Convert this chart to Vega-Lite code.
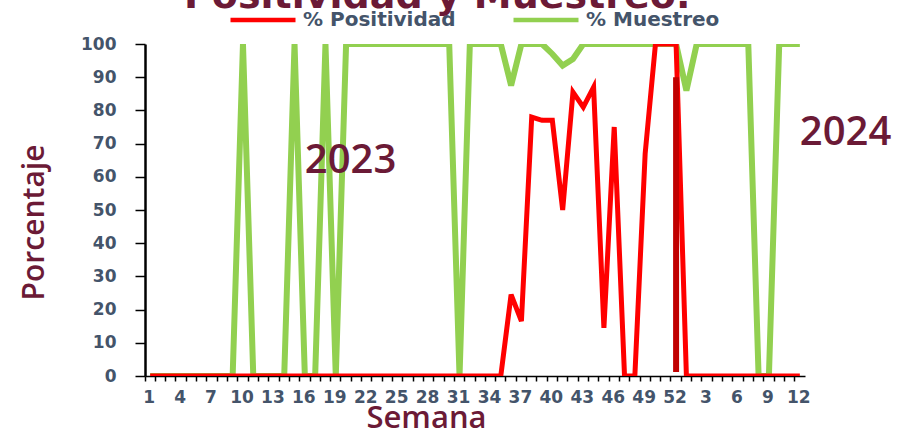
{
  "$schema": "https://vega.github.io/schema/vega-lite/v6.json",
  "width": 660,
  "height": 332,
  "autosize": {"type": "none"},
  "padding": {"left": 145, "top": 44, "right": 94, "bottom": 58},
  "background": "white",
  "title": {
    "text": "Positividad y Muestreo.",
    "font": "DejaVu Sans",
    "fontSize": 38,
    "fontWeight": "bold",
    "color": "#6B1A36",
    "anchor": "start",
    "frame": "group",
    "dx": 39,
    "dy": 40,
    "baseline": "alphabetic",
    "offset": -21
  },
  "config": {
    "view": {"stroke": null},
    "axisY": {
      "labelOverlap": false,
      "labelFont": "DejaVu Sans",
      "labelFontWeight": "bold",
      "labelFontSize": 17,
      "labelColor": "#44546A",
      "labelPadding": 19,
      "tickSize": 10,
      "tickWidth": 1.5,
      "tickColor": "black",
      "domainColor": "black",
      "domainWidth": 2.5,
      "grid": false
    },
    "axisX": {
      "labelFont": "DejaVu Sans",
      "labelFontWeight": "bold",
      "labelFontSize": 17,
      "labelColor": "#44546A",
      "labelPadding": 8,
      "labelOverlap": false,
      "tickSize": 5,
      "tickWidth": 1.5,
      "tickColor": "black",
      "domainColor": "black",
      "domainWidth": 1.5,
      "grid": false
    }
  },
  "datasets": {
    "semanas": [
      {"i": 0, "semana": "1", "pos": 0, "mue": 0},
      {"i": 1, "semana": "2", "pos": 0, "mue": 0},
      {"i": 2, "semana": "3", "pos": 0, "mue": 0},
      {"i": 3, "semana": "4", "pos": 0, "mue": 0},
      {"i": 4, "semana": "5", "pos": 0, "mue": 0},
      {"i": 5, "semana": "6", "pos": 0, "mue": 0},
      {"i": 6, "semana": "7", "pos": 0, "mue": 0},
      {"i": 7, "semana": "8", "pos": 0, "mue": 0},
      {"i": 8, "semana": "9", "pos": 0, "mue": 0},
      {"i": 9, "semana": "10", "pos": 0, "mue": 100},
      {"i": 10, "semana": "11", "pos": 0, "mue": 0},
      {"i": 11, "semana": "12", "pos": 0, "mue": 0},
      {"i": 12, "semana": "13", "pos": 0, "mue": 0},
      {"i": 13, "semana": "14", "pos": 0, "mue": 0},
      {"i": 14, "semana": "15", "pos": 0, "mue": 100},
      {"i": 15, "semana": "16", "pos": 0, "mue": 0},
      {"i": 16, "semana": "17", "pos": 0, "mue": 0},
      {"i": 17, "semana": "18", "pos": 0, "mue": 100},
      {"i": 18, "semana": "19", "pos": 0, "mue": 0},
      {"i": 19, "semana": "20", "pos": 0, "mue": 100},
      {"i": 20, "semana": "21", "pos": 0, "mue": 100},
      {"i": 21, "semana": "22", "pos": 0, "mue": 100},
      {"i": 22, "semana": "23", "pos": 0, "mue": 100},
      {"i": 23, "semana": "24", "pos": 0, "mue": 100},
      {"i": 24, "semana": "25", "pos": 0, "mue": 100},
      {"i": 25, "semana": "26", "pos": 0, "mue": 100},
      {"i": 26, "semana": "27", "pos": 0, "mue": 100},
      {"i": 27, "semana": "28", "pos": 0, "mue": 100},
      {"i": 28, "semana": "29", "pos": 0, "mue": 100},
      {"i": 29, "semana": "30", "pos": 0, "mue": 100},
      {"i": 30, "semana": "31", "pos": 0, "mue": 0},
      {"i": 31, "semana": "32", "pos": 0, "mue": 100},
      {"i": 32, "semana": "33", "pos": 0, "mue": 100},
      {"i": 33, "semana": "34", "pos": 0, "mue": 100},
      {"i": 34, "semana": "35", "pos": 0, "mue": 100},
      {"i": 35, "semana": "36", "pos": 24.5, "mue": 87.5},
      {"i": 36, "semana": "37", "pos": 16.5, "mue": 100},
      {"i": 37, "semana": "38", "pos": 78, "mue": 100},
      {"i": 38, "semana": "39", "pos": 77, "mue": 100},
      {"i": 39, "semana": "40", "pos": 77, "mue": 97},
      {"i": 40, "semana": "41", "pos": 50, "mue": 93.5},
      {"i": 41, "semana": "42", "pos": 85.5, "mue": 95.5},
      {"i": 42, "semana": "43", "pos": 81, "mue": 100},
      {"i": 43, "semana": "44", "pos": 87, "mue": 100},
      {"i": 44, "semana": "45", "pos": 14.5, "mue": 100},
      {"i": 45, "semana": "46", "pos": 75, "mue": 100},
      {"i": 46, "semana": "47", "pos": 0, "mue": 100},
      {"i": 47, "semana": "48", "pos": 0, "mue": 100},
      {"i": 48, "semana": "49", "pos": 67, "mue": 100},
      {"i": 49, "semana": "50", "pos": 100, "mue": 100},
      {"i": 50, "semana": "51", "pos": 100, "mue": 100},
      {"i": 51, "semana": "52", "pos": 100, "mue": 100},
      {"i": 52, "semana": "1", "pos": 0, "mue": 86},
      {"i": 53, "semana": "2", "pos": 0, "mue": 100},
      {"i": 54, "semana": "3", "pos": 0, "mue": 100},
      {"i": 55, "semana": "4", "pos": 0, "mue": 100},
      {"i": 56, "semana": "5", "pos": 0, "mue": 100},
      {"i": 57, "semana": "6", "pos": 0, "mue": 100},
      {"i": 58, "semana": "7", "pos": 0, "mue": 100},
      {"i": 59, "semana": "8", "pos": 0, "mue": 0},
      {"i": 60, "semana": "9", "pos": 0, "mue": 0},
      {"i": 61, "semana": "10", "pos": 0, "mue": 100},
      {"i": 62, "semana": "11", "pos": 0, "mue": 100},
      {"i": 63, "semana": "12", "pos": 0, "mue": 100}
    ],
    "segmento": [{"i": 51, "desde": 1.2, "hasta": 90}],
    "notas": [
      {"i": 15, "y": 61, "txt": "2023"},
      {"i": 63, "y": 69.6, "txt": "2024"}
    ]
  },
  "layer": [
    {
      "data": {"name": "semanas"},
      "mark": {"type": "line", "clip": true, "strokeWidth": 6, "strokeJoin": "miter"},
      "encoding": {
        "x": {
          "field": "i",
          "type": "ordinal",
          "scale": {"type": "band", "paddingInner": 0, "paddingOuter": 0},
          "axis": {
            "title": "Semana",
            "titleFont": "Open Sans",
            "titleFontWeight": 600,
            "titleFontSize": 31,
            "titleColor": "#6B1A36",
            "titleX": 281,
            "titleY": 51,
            "titleBaseline": "alphabetic",
            "titleAlign": "center",
            "labelExpr": "datum.value % 3 == 0 ? '' + (datum.value < 52 ? datum.value + 1 : datum.value - 51) : ''",
            "labelAngle": 0,
            "labelOffset": -1,
            "bandPosition": 0
          }
        },
        "y": {
          "field": "mue",
          "type": "quantitative",
          "title": "Porcentaje",
          "scale": {"domain": [0, 100], "nice": false},
          "axis": {
            "values": [0, 10, 20, 30, 40, 50, 60, 70, 80, 90, 100],
            "labelOverlap": false,
            "titleFont": "Open Sans",
            "titleFontWeight": 600,
            "titleFontSize": 30,
            "titleColor": "#6B1A36",
            "titleX": -102,
            "titleY": 178,
            "titleAngle": -90,
            "titleBaseline": "alphabetic",
            "titleAlign": "center"
          }
        },
        "color": {
          "datum": "% Muestreo",
          "type": "nominal",
          "scale": {"domain": ["% Positividad", "% Muestreo"], "range": ["#FF0000", "#92D050"]},
          "legend": {
            "orient": "none",
            "legendX": 83,
            "legendY": -59,
            "direction": "horizontal",
            "title": null,
            "symbolType": "stroke",
            "symbolSize": 4225,
            "symbolStrokeWidth": 4.5,
            "labelFont": "DejaVu Sans",
            "labelFontWeight": "bold",
            "labelFontSize": 20,
            "labelColor": "#44546A",
            "labelOffset": 5,
            "columnPadding": 48
          }
        }
      }
    },
    {
      "data": {"name": "semanas"},
      "mark": {"type": "line", "clip": true, "strokeWidth": 5, "strokeJoin": "miter"},
      "encoding": {
        "x": {"field": "i", "type": "ordinal"},
        "y": {
          "field": "pos",
          "type": "quantitative",
          "title": "Porcentaje",
          "axis": {
            "values": [0, 10, 20, 30, 40, 50, 60, 70, 80, 90, 100],
            "labelOverlap": false,
            "titleFont": "Open Sans",
            "titleFontWeight": 600,
            "titleFontSize": 30,
            "titleColor": "#6B1A36",
            "titleX": -102,
            "titleY": 178,
            "titleAngle": -90,
            "titleBaseline": "alphabetic",
            "titleAlign": "center"
          }
        },
        "color": {"datum": "% Positividad", "type": "nominal"}
      }
    },
    {
      "data": {"name": "segmento"},
      "mark": {"type": "rule", "color": "#C00000", "strokeWidth": 6},
      "encoding": {
        "x": {"field": "i", "type": "ordinal"},
        "y": {
          "field": "desde",
          "type": "quantitative",
          "title": "Porcentaje",
          "axis": {
            "values": [0, 10, 20, 30, 40, 50, 60, 70, 80, 90, 100],
            "labelOverlap": false,
            "titleFont": "Open Sans",
            "titleFontWeight": 600,
            "titleFontSize": 30,
            "titleColor": "#6B1A36",
            "titleX": -102,
            "titleY": 178,
            "titleAngle": -90,
            "titleBaseline": "alphabetic",
            "titleAlign": "center"
          }
        },
        "y2": {"field": "hasta"}
      }
    },
    {
      "data": {"name": "notas"},
      "mark": {"type": "text", "align": "left", "baseline": "alphabetic", "font": "Open Sans", "fontWeight": 600, "fontSize": 40, "color": "#6B1A36"},
      "encoding": {
        "x": {"field": "i", "type": "ordinal"},
        "y": {
          "field": "y",
          "type": "quantitative",
          "title": "Porcentaje",
          "axis": {
            "values": [0, 10, 20, 30, 40, 50, 60, 70, 80, 90, 100],
            "labelOverlap": false,
            "titleFont": "Open Sans",
            "titleFontWeight": 600,
            "titleFontSize": 30,
            "titleColor": "#6B1A36",
            "titleX": -102,
            "titleY": 178,
            "titleAngle": -90,
            "titleBaseline": "alphabetic",
            "titleAlign": "center"
          }
        },
        "text": {"field": "txt"}
      }
    }
  ]
}
